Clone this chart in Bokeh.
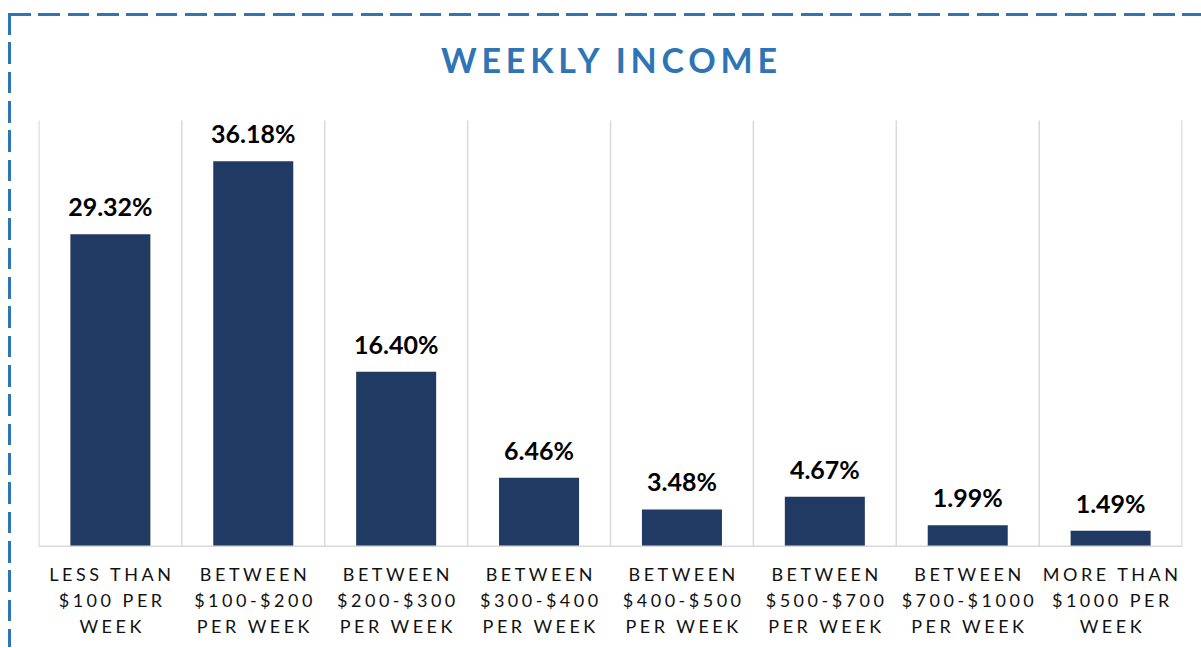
from bokeh.plotting import figure
from bokeh.layouts import column
from bokeh.models import Range1d, Span, Div, ColumnDataSource
from bokeh.core.properties import value
from bokeh.embed import file_html
from bokeh.resources import INLINE

# ---- data ----
title_text = "WEEKLY INCOME"
categories = [
    "LESS THAN\n$100 PER\nWEEK",
    "BETWEEN\n$100-$200\nPER WEEK",
    "BETWEEN\n$200-$300\nPER WEEK",
    "BETWEEN\n$300-$400\nPER WEEK",
    "BETWEEN\n$400-$500\nPER WEEK",
    "BETWEEN\n$500-$700\nPER WEEK",
    "BETWEEN\n$700-$1000\nPER WEEK",
    "MORE THAN\n$1000 PER\nWEEK",
]
values = [29.32, 36.18, 16.40, 6.46, 3.48, 4.67, 1.99, 1.49]
value_labels = [f"{v:.2f}%" for v in values]
y_max = 40

# ---- style ----
BLUE = "#2E75B6"
NAVY = "#213A63"
GRID = "#D9D9D9"
FONT = "Lato"
W = 1193
BL, BR = 30, 19          # frame borders left/right
LS = 3.5                 # letter spacing of category labels (px)

n = len(categories)
centers = [i + 0.5 for i in range(n)]
bounds = list(range(n + 1))

source = ColumnDataSource(dict(x=centers, top=values, label=value_labels))
grid_src = ColumnDataSource(dict(b=bounds, y0=[0] * len(bounds), y1=[y_max] * len(bounds)))

x_range = Range1d(-0.003, n + 0.003)

title = Div(
    text=(f'<div style="margin-left:29px;width:1144px;text-align:center;'
          f'padding-top:35px;font-family:{FONT};font-weight:bold;font-size:34px;'
          f'line-height:34px;letter-spacing:4.75px;text-indent:4.75px;color:{BLUE};">'
          f'{title_text}</div>'),
    width=W, height=100, margin=0,
)

p = figure(
    width=W, height=439, title=None,
    x_range=x_range, y_range=Range1d(-0.094, y_max + 1.127),
    output_backend="svg", toolbar_location=None,
    x_axis_location=None, y_axis_location=None,
    min_border_left=BL, min_border_right=BR, min_border_top=0, min_border_bottom=0,
    background_fill_color=None, border_fill_color=None, outline_line_color=None,
)
p.grid.visible = False
p.segment(x0="b", y0="y0", x1="b", y1="y1", source=grid_src,
          line_color=GRID, line_width=1.5)
p.add_layout(Span(location=0, dimension="width", line_color=GRID, line_width=2))

p.vbar(x="x", top="top", width=0.56, bottom=0, source=source,
       fill_color=NAVY, line_color=None)
p.text(x="x", y="top", text="label", source=source,
       text_font=value(FONT), text_font_style="bold", text_font_size="25px",
       text_color="#000000", text_align="center", text_baseline="alphabetic",
       y_offset=-28)

# ---- category labels (letter-spaced) ----
lx, lrow, ltext, loff = [], [], [], []
for c, cat in zip(centers, categories):
    for k, line in enumerate(cat.split("\n")):
        lx.append(c)
        lrow.append(k)
        ltext.append(line)
        loff.append(-(len(line) - 1) * LS / 2)
lab_src = ColumnDataSource(dict(x=lx, row=lrow, text=ltext, xoff=loff))

pa = figure(
    width=W, height=100, title=None,
    x_range=x_range,
    y_range=Range1d(2.8627, -1.0588),
    output_backend="svg", toolbar_location=None,
    x_axis_location=None, y_axis_location=None,
    min_border_left=BL, min_border_right=BR, min_border_top=0, min_border_bottom=0,
    background_fill_color=None, border_fill_color=None, outline_line_color=None,
    styles={"letter-spacing": f"{LS}px"},
)
pa.grid.visible = False
pa.text(x="x", y="row", text="text", x_offset="xoff", source=lab_src,
        text_font=value(FONT), text_font_size="18px", text_color="#111111",
        text_align="center", text_baseline="middle")

dash_h = f"repeating-linear-gradient(to right, {BLUE} 0px, {BLUE} 21.7px, transparent 21.7px, transparent 29.33px)"
dash_v = f"repeating-linear-gradient(to bottom, {BLUE} 0px, {BLUE} 21.7px, transparent 21.7px, transparent 29.33px)"
layout = column(
    title, p, pa, spacing=0, margin=(8, 0, 0, 8),
    styles={
        "background-image": f"{dash_h}, {dash_v}",
        "background-position": "1px 5px, 0px 5px",
        "background-size": "100% 3px, 3px 100%",
        "background-repeat": "no-repeat",
    },
)

open("out.html", "w").write(file_html(layout, INLINE))
